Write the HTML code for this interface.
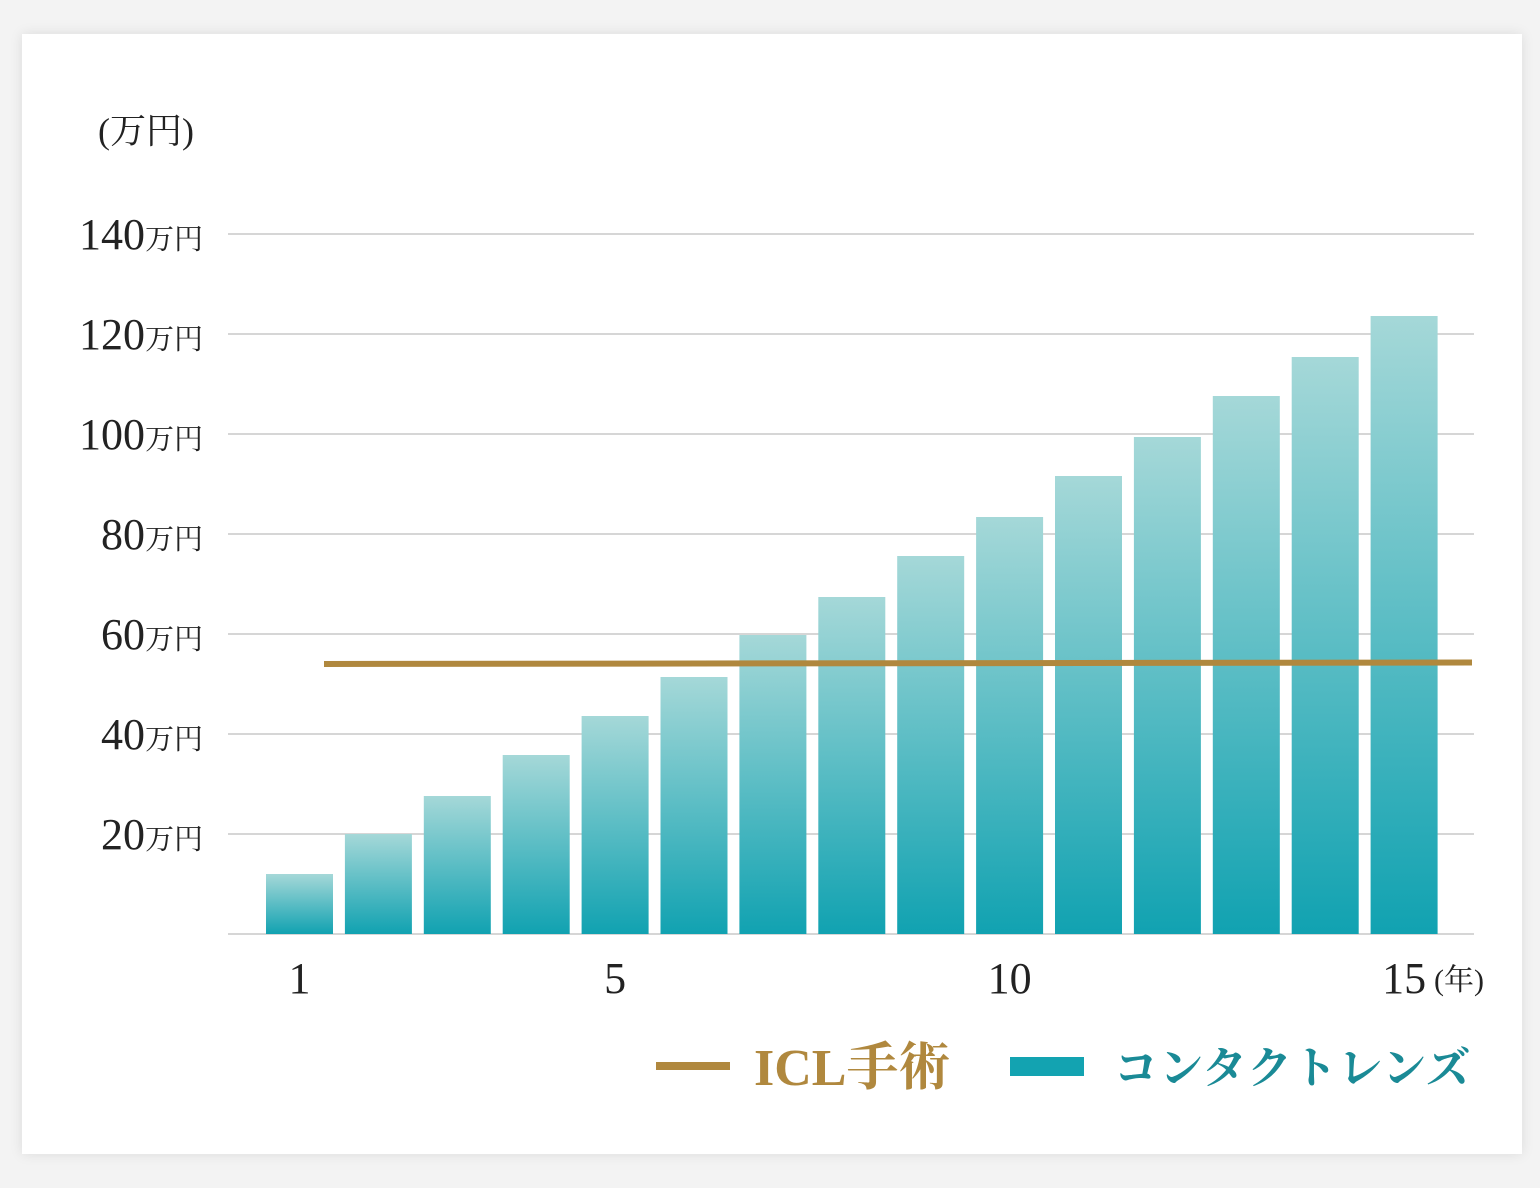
<!DOCTYPE html>
<html><head><meta charset="utf-8">
<style>
html,body{margin:0;padding:0;background:#f3f3f3;width:1540px;height:1188px;overflow:hidden}
#card{position:absolute;left:22px;top:34px;width:1500px;height:1120px;background:#fff;box-shadow:0 0 12px rgba(0,0,0,0.10)}
svg{position:absolute;left:0;top:0}
text{font-family:"Liberation Serif","Noto Serif CJK SC",serif}
</style></head>
<body>
<div id="card"></div>
<svg id="chart" width="1540" height="1188">
<defs>
<linearGradient id="bg" x1="0" y1="0" x2="0" y2="1">
<stop offset="0" stop-color="#a5d8d8"/><stop offset="1" stop-color="#11a2b1"/>
</linearGradient>
</defs>
<text x="98" y="143" font-size="36" fill="#222">(万円)</text>
<g id="grid"></g><g id="bars"></g><g id="ylabels"></g><g id="xlabels"></g><g id="icl"></g>
<g>
<rect x="656" y="1062" width="74" height="8" fill="#b0883e"/>
<text x="754" y="1085" font-size="52" font-weight="bold" fill="#b0883e">ICL手術</text>
<rect x="1010" y="1057" width="74" height="19" fill="#13a3b1"/>
<text x="1114" y="1083" font-size="44" font-weight="bold" fill="#1a8a96" textLength="356">コンタクトレンズ</text>
</g>
</svg>
<script>
const years=[1,2,3,4,5,6,7,8,9,10,11,12,13,14,15];
const contactCost=[12,20,27.6,35.8,43.6,51.4,59.8,67.4,75.6,83.4,91.6,99.4,107.6,115.4,123.6];
const iclCost=[54,54.3];
const yTicks=[20,40,60,80,100,120,140];
const xLabels=[1,5,10,15];
const NS="http://www.w3.org/2000/svg";
const y=v=>934-v*5;
const x=i=>299.5+(i-1)*78.9;
function mk(t,a,p){const e=document.createElementNS(NS,t);for(const k in a)e.setAttribute(k,a[k]);p.appendChild(e);return e;}
const grid=document.getElementById('grid');
[0,...yTicks].forEach(v=>{const l=mk('line',{x1:228,x2:1474,y1:y(v),y2:y(v),stroke:'#c8c8c8','stroke-width':1.5},grid);

});
const yl=document.getElementById('ylabels');
yTicks.forEach(v=>{const t=mk('text',{x:203,y:y(v)+15,'text-anchor':'end',fill:'#222'},yl);


t.innerHTML='<tspan font-size="44">'+v+'</tspan><tspan font-size="29">万円</tspan>';});
const bars=document.getElementById('bars');
years.forEach((yr,i)=>{const r=mk('rect',{x:x(yr)-33.5,y:y(contactCost[i]),width:67,height:y(0)-y(contactCost[i]),fill:'url(#bg)'},bars);

});
const xl=document.getElementById('xlabels');
xLabels.forEach(v=>{const t=mk('text',{x:x(v),y:993,'text-anchor':'middle','font-size':44,fill:'#222'},xl);


t.textContent=v;});
const yu=mk('text',{x:1434,y:990,'font-size':30,fill:'#222'},xl);


yu.textContent='(年)';
const icl=mk('line',{x1:324,x2:1472,y1:y(iclCost[0]),y2:y(iclCost[1]),stroke:'#b0883e','stroke-width':6},document.getElementById('icl'));


</script>
</body></html>
